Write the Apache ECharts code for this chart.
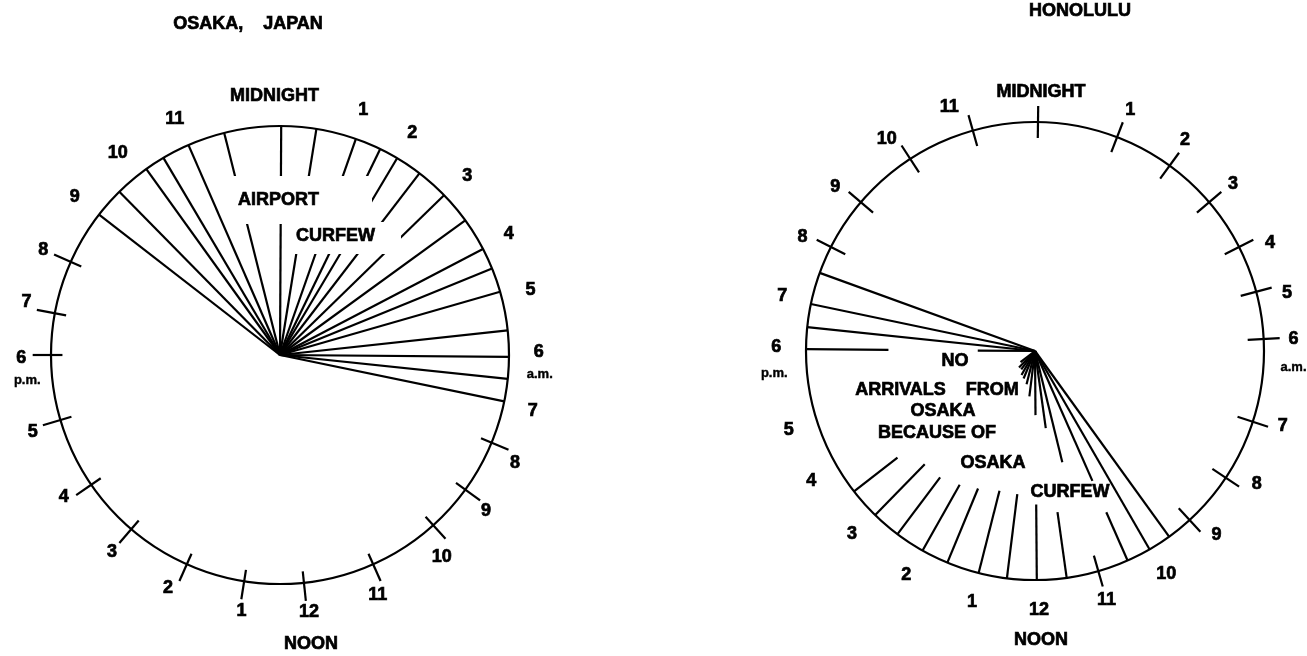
<!DOCTYPE html>
<html>
<head>
<meta charset="utf-8">
<script src="https://cdn.jsdelivr.net/npm/echarts@6/dist/echarts.min.js"></script>
<style>html,body{margin:0;padding:0;background:#fff}#chart{width:1307px;height:656px}</style>
</head>
<body>
<div id="chart"></div>
<script>
// ---------- data (hour positions as drawn on each 24-hour dial) ----------
const titleLeft = 'OSAKA,    JAPAN';
const titleRight = 'HONOLULU';

const hourLabels = ['MIDNIGHT','1','2','3','4','5','6','7','8','9','10','11',
                    '12','1','2','3','4','5','6','7','8','9','10','11'];
const subLabels = { 6: 'a.m.', 12: 'NOON', 18: 'p.m.' };

// Osaka departures (hours)
const osakaLines = [20.52, 21.03, 21.62, 21.96, 22.43, 23.06, 0.02, 0.61, 1.29, 1.73, 2.05,
                    2.5, 3.05, 3.6, 4.16, 4.52, 4.93, 5.59, 6.03, 6.4, 6.78];
const osakaTicks = [7.5, 8.4, 9.2, 10.4, 11.6, 12.6, 13.6, 14.7, 15.7, 16.9, 18.0, 18.7, 19.6];
const osakaLabelHours = [23.92, 1.25, 2.05, 3.09, 4.14, 5.03, 5.95, 6.83, 7.65, 8.48, 9.42, 10.52,
                         11.57, 12.57, 13.71, 14.7, 15.78, 16.85, 17.95, 18.78, 19.59, 20.5, 21.41, 22.4];
const osakaNotes = ['AIRPORT', 'CURFEW'];

// Honolulu arrivals: hour, visible part from centre (0..inner), visible part at rim (outer..1)
const honoluluHours = [19.33, 18.79, 18.4, 18.03, 15.48, 14.95, 14.46, 13.96, 13.5, 12.95, 12.47,
                       11.97, 11.47, 11.08, 10.41, 10.0, 9.61];
const honoluluInner = [1, 1, 1, 0.25, 0.08, 0.1, 0.1, 0.12, 0.13, 0.15, 0.2,
                       0.28, 0.34, 0.5, 0.62, 1, 1];
const honoluluOuter = [1, 1, 1, 0.64, 0.76, 0.69, 0.69, 0.67, 0.65, 0.63, 0.63,
                       0.67, 0.71, 1, 0.77, 1, 1];
const honoluluTicks = [0.05, 1.4, 2.4, 3.3, 4.2, 5.0, 5.8, 7.2, 8.24, 9.17, 10.93, 19.8, 20.7, 21.8, 22.95];
const honoluluLabelHours = [0.09, 1.44, 2.36, 3.33, 4.35, 5.13, 5.83, 7.12, 8.07, 9.03, 9.97, 10.93,
                            11.94, 12.94, 13.99, 15.0, 15.99, 16.81, 18.06, 18.82, 19.74, 20.63, 21.67, 22.71];
const honoluluNotes = ['NO', 'ARRIVALS    FROM', 'OSAKA', 'BECAUSE OF', 'OSAKA', 'CURFEW'];

// ---------- styles / layout ----------
const FONT_FAMILY = '"Liberation Sans", Arial, sans-serif';
const FS = 18;
const INK = '#000';
const LW = 2.2;
const TXT = { fill: INK, fontWeight: 'bold', fontFamily: FONT_FAMILY, stroke: INK, lineWidth: 0.7 };

function seg(p0, p1) {
  return { type: 'line', shape: { x1: p0[0], y1: p0[1], x2: p1[0], y2: p1[1] },
           style: { stroke: INK, lineWidth: LW, lineCap: 'butt' } };
}

function linesSeries(polarIndex, hours, inner, outer) {
  return {
    type: 'custom', coordinateSystem: 'polar', polarIndex: polarIndex, silent: true, z: 5,
    data: hours.map((h, i) => [inner ? inner[i] : 1, h, outer ? outer[i] : 1]),
    renderItem: function (params, api) {
      const a = api.value(0), h = api.value(1), b = api.value(2);
      const children = [];
      if (a > 0) children.push(seg(api.coord([0, h]), api.coord([a, h])));
      if (b < 1) children.push(seg(api.coord([b, h]), api.coord([1, h])));
      return { type: 'group', children: children };
    }
  };
}

function ticksSeries(polarIndex, ticks, rIn, rOut) {
  return {
    type: 'custom', coordinateSystem: 'polar', polarIndex: polarIndex, silent: true, z: 5,
    data: ticks.map(h => [1, h]),
    renderItem: function (params, api) {
      const h = api.value(1);
      return seg(api.coord([rIn, h]), api.coord([rOut, h]));
    }
  };
}

function labelsSeries(polarIndex, labelHours, rLab, subOffsets) {
  return {
    type: 'custom', coordinateSystem: 'polar', polarIndex: polarIndex, silent: true, z: 6,
    data: labelHours.map(h => [rLab, h]),
    renderItem: function (params, api) {
      const idx = params.dataIndex;
      const p = api.coord([api.value(0), api.value(1)]);
      const children = [{
        type: 'text', x: p[0], y: p[1],
        style: Object.assign({ text: hourLabels[idx], fontSize: FS,
                 align: 'center', verticalAlign: 'middle' }, TXT)
      }];
      if (subLabels[idx]) {
        const o = subOffsets[idx];
        const big = idx === 12;
        children.push({
          type: 'text', x: p[0] + o[0], y: p[1] + o[1],
          style: Object.assign({ text: subLabels[idx], fontSize: big ? FS : 13,
                   align: 'center', verticalAlign: 'middle' }, TXT, big ? {} : { lineWidth: 0.4 })
        });
      }
      return { type: 'group', children: children };
    }
  };
}

function angle(polarIndex) {
  return {
    polarIndex: polarIndex, type: 'value', min: 0, max: 24, startAngle: 90, clockwise: true,
    axisLine: { show: true, lineStyle: { color: INK, width: LW } },
    axisTick: { show: false }, axisLabel: { show: false }, splitLine: { show: false }
  };
}
function radius(polarIndex) {
  return { polarIndex: polarIndex, type: 'value', min: 0, max: 1, show: false,
           axisLine: { show: false }, axisTick: { show: false }, axisLabel: { show: false },
           splitLine: { show: false } };
}

function noteText(x, y, text, extra) {
  return {
    type: 'text', z: 100, x: x, y: y,
    style: Object.assign({ text: text, fontSize: FS, align: 'center', verticalAlign: 'middle' },
                         TXT, extra || {})
  };
}

const chart = echarts.init(document.getElementById('chart'), null, { renderer: 'canvas' });
chart.setOption({
  backgroundColor: '#fff',
  animation: false,
  polar: [
    { center: [280, 355], radius: 229 },
    { center: [1035, 351], radius: 229 }
  ],
  angleAxis: [angle(0), angle(1)],
  radiusAxis: [radius(0), radius(1)],
  series: [
    linesSeries(0, osakaLines),
    ticksSeries(0, osakaTicks, 0.95, 1.08),
    labelsSeries(0, osakaLabelHours, 1.13, { 6: [1, 23], 12: [2, 32], 18: [6, 22] }),
    linesSeries(1, honoluluHours, honoluluInner, honoluluOuter),
    ticksSeries(1, honoluluTicks, 0.93, 1.07),
    labelsSeries(1, honoluluLabelHours, 1.13, { 6: [0, 28], 12: [2, 30], 18: [-2, 26] })
  ],
  graphic: {
    elements: [
      noteText(248, 24, titleLeft),
      noteText(1080, 11, titleRight),
      // left dial notes, pasted on white paper over the lines
      noteText(226, 176, osakaNotes[0], { align: 'left', verticalAlign: 'top',
               backgroundColor: '#fff', padding: [15, 53, 15, 12] }),
      noteText(290, 222, osakaNotes[1], { align: 'left', verticalAlign: 'top',
               backgroundColor: '#fff', padding: [5, 26, 9, 6] }),
      // right dial notes
      noteText(955, 361, honoluluNotes[0]),
      noteText(937, 390, honoluluNotes[1]),
      noteText(943, 411, honoluluNotes[2]),
      noteText(937, 433, honoluluNotes[3]),
      noteText(993, 463, honoluluNotes[4]),
      noteText(1070, 492, honoluluNotes[5])
    ]
  }
});
</script>
</body>
</html>
